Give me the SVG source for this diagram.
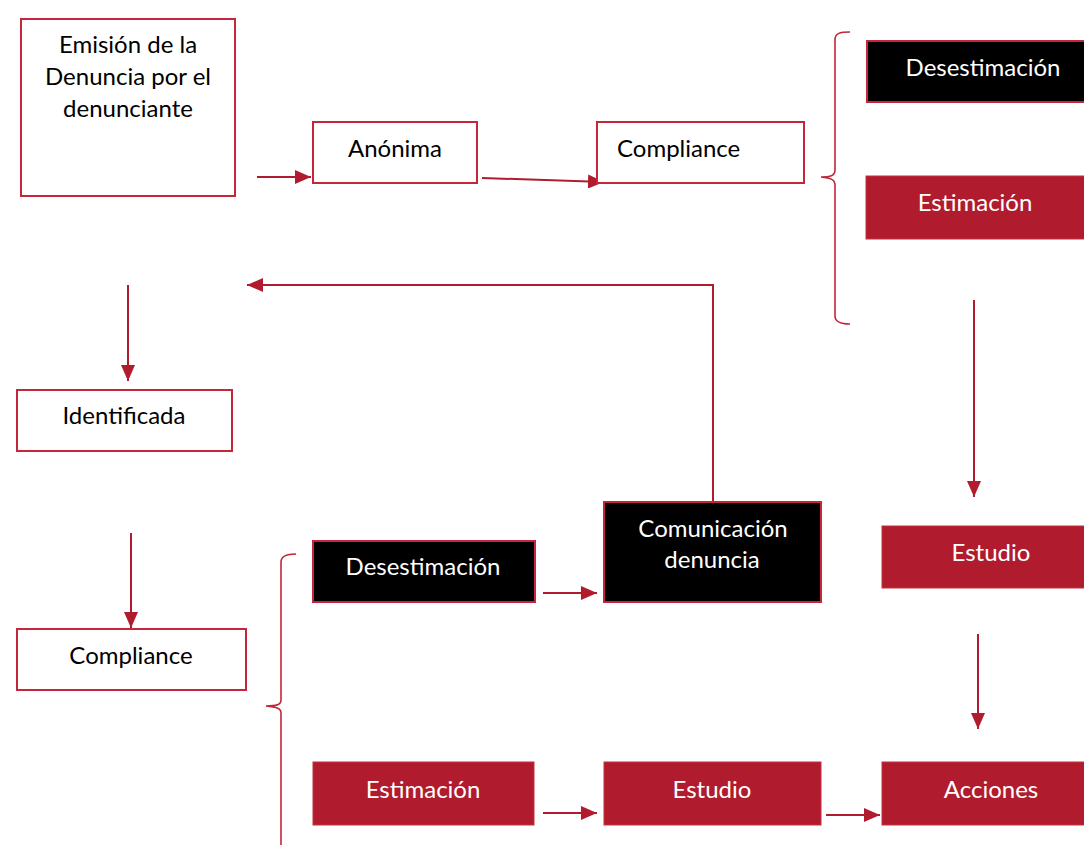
<svg xmlns="http://www.w3.org/2000/svg" width="1084" height="845" viewBox="0 0 1084 845">
<style>
.w{fill:#ffffff;stroke:#c4263a;stroke-width:2}
.k{fill:#000000;stroke:#c4263a;stroke-width:2}
.r{fill:#b01c2e;stroke:#c4303f;stroke-width:1}
text{font-family:Lato,"Carlito","Liberation Sans",sans-serif;font-size:24px}
.tb{fill:#000000}
.tw{fill:#ffffff}
.c{text-anchor:middle}
.ln{fill:none;stroke:#b01c2e;stroke-width:2}
.br{fill:none;stroke:#c0283a;stroke-width:1.6}
</style>
<defs>
<marker id="ah" viewBox="0 0 16 14" refX="16" refY="7" markerWidth="16" markerHeight="14" markerUnits="userSpaceOnUse" orient="auto">
<path d="M0,0 L16,7 L0,14 Z" fill="#b01c2e"/>
</marker>
</defs>
<rect width="1084" height="845" fill="#ffffff"/>
<g id="connectors">
<line class="ln" x1="257" y1="177" x2="311" y2="177" marker-end="url(#ah)"/>
<line class="ln" x1="482" y1="178" x2="604" y2="182" marker-end="url(#ah)"/>
<line class="ln" x1="974" y1="300" x2="974" y2="497" marker-end="url(#ah)"/>
<line class="ln" x1="978" y1="634" x2="978" y2="729" marker-end="url(#ah)"/>
<polyline class="ln" points="713,502 713,285 247,285" marker-end="url(#ah)"/>
<line class="ln" x1="128" y1="285" x2="128" y2="381" marker-end="url(#ah)"/>
<line class="ln" x1="131" y1="533" x2="131" y2="628" marker-end="url(#ah)"/>
<line class="ln" x1="543" y1="593" x2="597" y2="593" marker-end="url(#ah)"/>
<line class="ln" x1="543" y1="813" x2="597" y2="813" marker-end="url(#ah)"/>
<line class="ln" x1="826" y1="815" x2="880" y2="815" marker-end="url(#ah)"/>
<path class="br" d="M850,32 C840,32 835,33 835,40 L835,170 C835,176 830,177 821,177 C830,178 835,179 835,185 L835,316 C835,322 840,324 850,324"/>
<path class="br" d="M296,554 C286,554 281,556 281,562 L281,700 C281,705 276,706 266,706 C276,707 281,708 281,713 L281,850"/>
</g>
<g id="emision">
<rect class="w" x="21" y="19" width="214" height="177"/>
<text class="tb c" x="128" y="53">Emisión de la</text>
<text class="tb c" x="128" y="85">Denuncia por el</text>
<text class="tb c" x="128" y="117">denunciante</text>
</g>
<g id="anonima">
<rect class="w" x="313" y="122" width="164" height="61"/>
<text class="tb c" x="395" y="157">Anónima</text>
</g>
<g id="compliance1">
<rect class="w" x="597" y="122" width="207" height="61"/>
<text class="tb" x="617" y="157">Compliance</text>
</g>
<g id="desestimacion1">
<rect class="k" x="867" y="41" width="230" height="61"/>
<text class="tw c" x="983" y="76">Desestimación</text>
</g>
<g id="estimacion1">
<rect class="r" x="866" y="176" width="230" height="63"/>
<text class="tw c" x="975" y="211">Estimación</text>
</g>
<g id="estudio1">
<rect class="r" x="882" y="526" width="214" height="62"/>
<text class="tw c" x="991" y="561">Estudio</text>
</g>
<g id="acciones">
<rect class="r" x="882" y="762" width="214" height="63"/>
<text class="tw c" x="991" y="798">Acciones</text>
</g>
<g id="identificada">
<rect class="w" x="17" y="390" width="215" height="61"/>
<text class="tb c" x="124" y="424">Identificada</text>
</g>
<g id="compliance2">
<rect class="w" x="17" y="629" width="229" height="61"/>
<text class="tb c" x="131" y="664">Compliance</text>
</g>
<g id="desestimacion2">
<rect class="k" x="313" y="541" width="222" height="61"/>
<text class="tw c" x="423" y="575">Desestimación</text>
</g>
<g id="comunicacion">
<rect class="k" x="604" y="502" width="217" height="100"/>
<text class="tw c" x="713" y="537">Comunicación</text>
<text class="tw c" x="712" y="568">denuncia</text>
</g>
<g id="estimacion2">
<rect class="r" x="313" y="762" width="221" height="63"/>
<text class="tw c" x="423" y="798">Estimación</text>
</g>
<g id="estudio2">
<rect class="r" x="604" y="762" width="217" height="63"/>
<text class="tw c" x="712" y="798">Estudio</text>
</g>
</svg>
